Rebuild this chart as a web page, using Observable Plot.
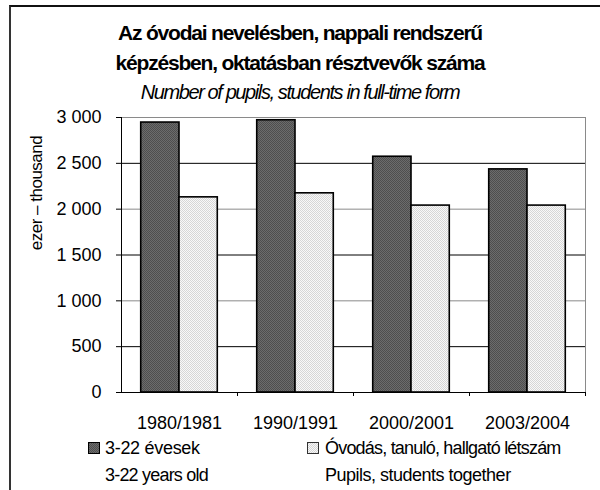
<!DOCTYPE html>
<html>
<head>
<meta charset="utf-8">
<script src="https://cdn.jsdelivr.net/npm/d3@7"></script>
<script src="https://cdn.jsdelivr.net/npm/@observablehq/plot@0.6"></script>
<style>
  html, body { margin: 0; padding: 0; background: #fff; }
  #wrap { position: relative; width: 600px; height: 490px; overflow: hidden; background: #fff;
          font-family: "Liberation Sans", Arial, sans-serif; color: #000; }
  #frame { position: absolute; left: 9px; top: 5px; width: 620px; height: 520px;
           border-left: 2px solid #333; border-top: 2px solid #111; }
  .tline { position: absolute; left: 0; width: 600px; text-align: center; white-space: nowrap; }
  .t1 { font-weight: bold; font-size: 21px; letter-spacing: -1.2px; }
  .t2 { font-style: italic; font-size: 20px; letter-spacing: -1.4px; }
  #ylab { position: absolute; left: 37px; top: 193px; transform: translate(-50%, -50%) rotate(-90deg);
          font-size: 17px; white-space: nowrap; letter-spacing: -0.5px; }
  #chart { position: absolute; left: 0; top: 100px; }
  .leg { position: absolute; font-size: 18px; white-space: nowrap; letter-spacing: -0.8px; line-height: 20px; }
  .sw { position: absolute; }
</style>
</head>
<body>
<div id="wrap">
  <div id="frame"></div>
  <div class="tline t1" id="title1" style="top:18px;line-height:30px"></div>
  <div class="tline t1" id="title2" style="top:48px;line-height:30px"></div>
  <div class="tline t2" id="subtitle" style="top:77px;line-height:30px"></div>
  <div id="ylab"></div>
  <div id="chart"></div>
  <svg class="sw" style="left:88px;top:442px" width="12" height="12"><rect x="0.5" y="0.5" width="11" height="11" fill="url(#patDark)" stroke="#000"/></svg>
  <svg class="sw" style="left:307px;top:442px" width="12" height="12"><rect x="0.5" y="0.5" width="11" height="11" fill="url(#patLight)" stroke="#333"/></svg>
  <div class="leg" id="leg1hu" style="left:105px;top:438px;letter-spacing:-0.3px"></div>
  <div class="leg" id="leg2hu" style="left:325px;top:438px"></div>
  <div class="leg" id="leg1en" style="left:105px;top:465px"></div>
  <div class="leg" id="leg2en" style="left:325px;top:465px;letter-spacing:-0.5px"></div>
</div>
<script>
// ---- data ----
const categories = ["1980/1981", "1990/1991", "2000/2001", "2003/2004"];
const ages3to22 = [2945, 2970, 2572, 2434];
const pupilsTotal = [2129, 2173, 2039, 2039];
const yTicks = [0, 500, 1000, 1500, 2000, 2500, 3000];
const seriesHu = ["3-22 évesek", "Óvodás, tanuló, hallgató létszám"];
const seriesEn = ["3-22 years old", "Pupils, students together"];
const titleLines = ["Az óvodai nevelésben, nappali rendszerű", "képzésben, oktatásban résztvevők száma"];
const subtitle = "Number of pupils, students in full-time form";
const yLabel = "ezer – thousand";

// ---- texts ----
document.getElementById("title1").textContent = titleLines[0];
document.getElementById("title2").textContent = titleLines[1];
document.getElementById("subtitle").textContent = subtitle;
document.getElementById("ylab").textContent = yLabel;
document.getElementById("leg1hu").textContent = seriesHu[0];
document.getElementById("leg2hu").textContent = seriesHu[1];
document.getElementById("leg1en").textContent = seriesEn[0];
document.getElementById("leg2en").textContent = seriesEn[1];

// ---- layout ----
const W = 600, H = 340, mL = 121, mR = 15, mT = 17, mB = 48;
const step = (W - mL - mR) / categories.length;
const barW = step * 0.33;
const outer = (step - 2 * barW) / 2;

const rowsA = categories.map((c, i) => ({cat: c, v: ages3to22[i]}));
const rowsB = categories.map((c, i) => ({cat: c, v: pupilsTotal[i]}));
const fmt = d => d3.format(",")(d).replace(/,/g, " ");

const svg = Plot.plot({
  width: W, height: H,
  marginTop: mT, marginBottom: mB, marginLeft: mL, marginRight: mR,
  style: {fontFamily: "'Liberation Sans', Arial, sans-serif", fontSize: "18px", color: "#000", background: "transparent", overflow: "visible"},
  x: {domain: categories, padding: 0, label: null},
  y: {domain: [0, 3000], label: null},
  marks: [
    Plot.frame({stroke: "#8a8a8a"}),
    Plot.ruleY(yTicks.filter(d => d % 1000 === 500), {stroke: "#000"}),
    Plot.ruleY(yTicks.filter(d => d > 0 && d % 1000 === 0), {stroke: "#8a8a8a"}),
    Plot.barY(rowsA, {x: "cat", y: "v", fill: "url(#patDark)", stroke: "#000", strokeWidth: 1.6,
      insetLeft: outer, insetRight: step - outer - barW}),
    Plot.barY(rowsB, {x: "cat", y: "v", fill: "url(#patLight)", stroke: "#000", strokeWidth: 1.6,
      insetLeft: outer + barW, insetRight: outer}),
    Plot.ruleY([0], {stroke: "#000"}),
    Plot.ruleX([categories[0]], {y1: 0, y2: 3000, dx: -step / 2, stroke: "#000"}),
    Plot.axisY({ticks: yTicks, tickSize: 5, tickPadding: 15, tickFormat: fmt, label: null,
      fontSize: 18, letterSpacing: -1.5}),
    Plot.axisX({tickSize: 4, tickFormat: () => "", dx: step / 2, label: null}),
    Plot.axisX({tickSize: 0, tickPadding: 24, label: null, fontSize: 18, letterSpacing: -0.8})
  ]
});

// texture patterns (drawn by the fill of the bars)
const defs = d3.select(svg).insert("defs", ":first-child");
function pat(id, base, dot) {
  const p = defs.append("pattern").attr("id", id).attr("patternUnits", "userSpaceOnUse")
    .attr("width", 2).attr("height", 2);
  p.append("rect").attr("width", 2).attr("height", 2).attr("fill", base);
  p.append("rect").attr("x", 0).attr("y", 0).attr("width", 1).attr("height", 1).attr("fill", dot);
  p.append("rect").attr("x", 1).attr("y", 1).attr("width", 1).attr("height", 1).attr("fill", dot);
}
pat("patDark", "#6c6c6c", "#4e4e4e");
pat("patLight", "#f8f8f8", "#d6d6d6");

document.getElementById("chart").appendChild(svg);
</script>
</body>
</html>
